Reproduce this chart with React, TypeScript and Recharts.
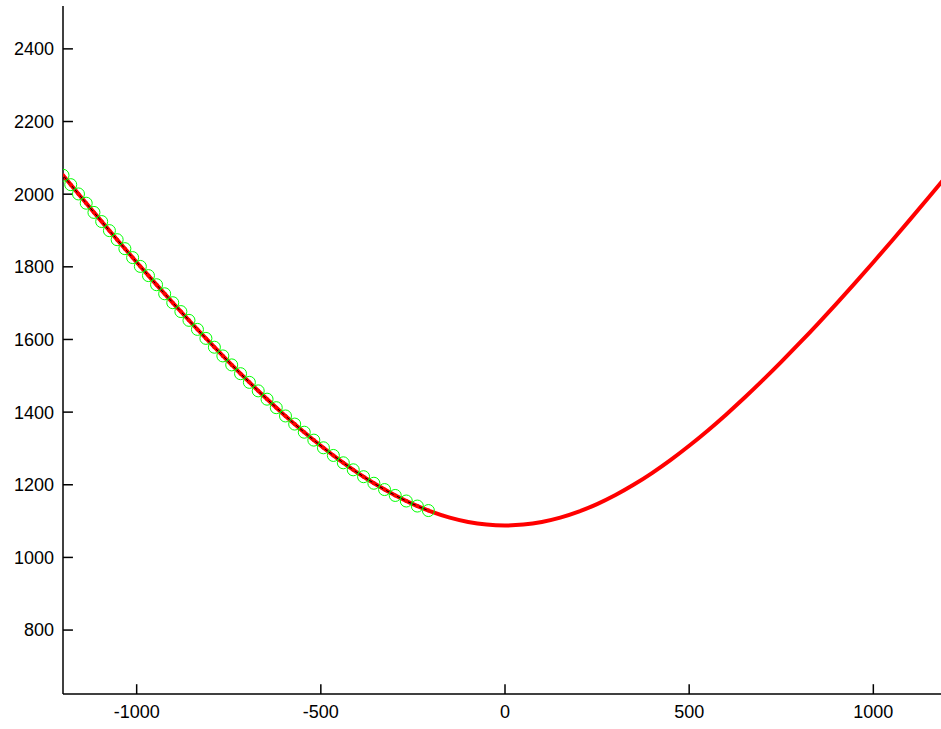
import React from "react";
import { LineChart, Line, XAxis, YAxis, ReferenceLine } from "recharts";

// Full fitted curve (red)
const curveX = [
  -1200, -1150, -1100, -1050, -1000, -950, -900, -850, -800, -750, -700, -650, -600, -550, -500, -450, -400, -350, -300, -250, -200, -150, -100, -50,
  0, 50, 100, 150, 200, 250, 300, 350, 400, 450, 500, 550, 600, 650, 700, 750, 800, 850, 900, 950, 1000, 1050, 1100, 1150, 1200,
];
const curveY = [
  2052.0, 1990.9, 1930.6, 1871.2, 1812.7, 1755.2, 1698.9, 1643.9, 1590.3, 1538.2, 1487.9, 1439.4, 1393.0, 1348.9, 1307.4, 1268.6, 1232.9, 1200.5, 1171.7, 1146.8, 1126.0, 1109.5, 1097.6, 1090.4,
  1088.0, 1090.4, 1097.6, 1109.5, 1126.0, 1146.8, 1171.7, 1200.5, 1232.9, 1268.6, 1307.4, 1348.9, 1393.0, 1439.4, 1487.9, 1538.2, 1590.3, 1643.9, 1698.9, 1755.2, 1812.7, 1871.2, 1930.6, 1990.9, 2052.0,
];

// Measured samples (green circles, black connecting line, red dots)
const sampleX = [
  -1200, -1179, -1158, -1137, -1116, -1095, -1074, -1053, -1032, -1011,
  -990, -968, -946, -924, -902, -880, -858, -835, -812, -789,
  -766, -742, -718, -694, -670, -646, -621, -596, -571, -545,
  -519, -493, -466, -439, -412, -384, -356, -327, -298, -268,
  -238, -208,
];
const sampleY = [
  2052.0, 2026.2, 2000.6, 1975.1, 1949.8, 1924.6, 1899.6, 1874.7, 1850.0, 1825.4,
  1801.1, 1775.8, 1750.7, 1725.8, 1701.2, 1676.8, 1652.6, 1627.7, 1603.0, 1578.7,
  1554.7, 1530.0, 1505.8, 1481.9, 1458.5, 1435.6, 1412.2, 1389.4, 1367.1, 1344.7,
  1322.9, 1301.8, 1280.7, 1260.5, 1241.2, 1222.2, 1204.2, 1186.8, 1170.6, 1155.3,
  1141.4, 1129.0,
];

const xTicks = [-1000, -500, 0, 500, 1000];
const yTicks = [800, 1000, 1200, 1400, 1600, 1800, 2000, 2200, 2400];

const X_DOMAIN: [number, number] = [-1200, 1200];
const Y_DOMAIN: [number, number] = [624, 2518];
// inward tick mark lengths expressed in data units (~10px)
const X_TICK_LEN = 27;
const Y_TICK_LEN = 27;

const curveData = curveX.map((x, i) => ({ x, y: curveY[i] }));
const sampleData = sampleX.map((x, i) => ({ x, y: sampleY[i] }));

const FONT = "'Liberation Sans', Arial, sans-serif";
const tickText = { fill: "#000", fontSize: 18, fontFamily: FONT };

export default function App() {
  return (
    <div style={{ position: "absolute", left: 0, top: 0, width: 941, height: 729, overflow: "hidden", background: "#fff" }}>
      <LineChart width={950} height={729} margin={{ top: 6, right: 3, bottom: 0, left: 0 }}>
        <XAxis
          type="number"
          dataKey="x"
          domain={X_DOMAIN}
          ticks={xTicks}
          allowDataOverflow
          height={35}
          tickSize={0}
          tickMargin={11}
          tick={tickText}
          axisLine={{ stroke: "#000", strokeWidth: 1.5 }}
          tickLine={false}
        />
        <YAxis
          type="number"
          dataKey="y"
          domain={Y_DOMAIN}
          ticks={yTicks}
          allowDataOverflow
          width={63}
          tickSize={0}
          tickMargin={9}
          tick={tickText}
          axisLine={{ stroke: "#000", strokeWidth: 1.5 }}
          tickLine={false}
        />
        {yTicks.map((v) => (
          <ReferenceLine
            key={`yt${v}`}
            segment={[
              { x: X_DOMAIN[0], y: v },
              { x: X_DOMAIN[0] + X_TICK_LEN, y: v },
            ]}
            stroke="#000"
            strokeWidth={1.5}
            ifOverflow="visible"
          />
        ))}
        {xTicks.map((v) => (
          <ReferenceLine
            key={`xt${v}`}
            segment={[
              { x: v, y: Y_DOMAIN[0] },
              { x: v, y: Y_DOMAIN[0] + Y_TICK_LEN },
            ]}
            stroke="#000"
            strokeWidth={1.5}
            ifOverflow="visible"
          />
        ))}
        <Line
          data={curveData}
          dataKey="y"
          type="monotone"
          stroke="#ff0000"
          strokeWidth={4}
          dot={false}
          activeDot={false}
          isAnimationActive={false}
        />
        <Line
          data={sampleData}
          dataKey="y"
          type="linear"
          stroke="none"
          strokeWidth={0}
          dot={{ r: 6, stroke: "#00ff00", strokeWidth: 1, fill: "none" }}
          activeDot={false}
          isAnimationActive={false}
        />
        <Line
          data={sampleData}
          dataKey="y"
          type="linear"
          stroke="#000"
          strokeWidth={1}
          dot={{ r: 2, stroke: "none", fill: "#ff0000" }}
          activeDot={false}
          isAnimationActive={false}
        />
      </LineChart>
    </div>
  );
}
